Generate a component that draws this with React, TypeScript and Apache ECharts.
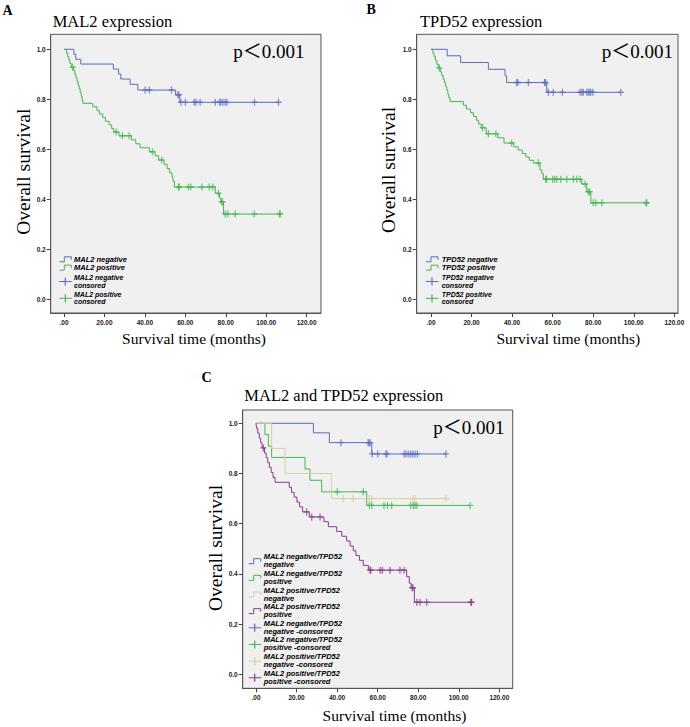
import React, { useEffect, useRef } from 'react';
import * as echarts from 'echarts';

const X_TICKS = [0, 20, 40, 60, 80, 100, 120];
const Y_TICKS = [0, 0.2, 0.4, 0.6, 0.8, 1.0];

// Panel A: MAL2
const aNegTimes = [0, 4.9, 5.8, 8.3, 24.4, 27.0, 28.1, 32.7, 36.5, 55.2, 57.3];
const aNegSurv = [1, 0.980, 0.960, 0.941, 0.921, 0.901, 0.881, 0.860, 0.837, 0.818, 0.788];
const aNegCens = [40.1, 42.2, 53.2, 56.3, 56.8, 57.8, 60.0, 64.4, 65.3, 67.3, 74.8, 76.9, 77.6, 78.6, 79.7, 80.5, 94.2, 106.1];

const aPosTimes = [0, 1.2, 1.8, 2.4, 3.0, 3.6, 4.8, 5.4, 5.9, 6.5, 7.0, 7.5, 8.0, 8.5, 8.9, 9.3, 14.2, 16.3, 17.5, 19.2, 20.5, 22.3, 23.6, 24.6, 27.2, 33.3, 35.5, 37.6, 42.2, 45.0, 46.8, 49.5, 51.0, 52.3, 53.4, 53.9, 54.6, 74.8, 76.9, 77.6, 78.9];
const aPosSurv = [1, 0.986, 0.971, 0.957, 0.943, 0.928, 0.914, 0.899, 0.885, 0.871, 0.856, 0.842, 0.827, 0.813, 0.798, 0.784, 0.770, 0.755, 0.741, 0.727, 0.712, 0.698, 0.683, 0.669, 0.654, 0.638, 0.622, 0.606, 0.590, 0.574, 0.557, 0.540, 0.523, 0.506, 0.489, 0.472, 0.449, 0.424, 0.405, 0.390, 0.341];
const aPosCens = [4.3, 25.8, 28.9, 32.2, 43.7, 48.3, 56.6, 57.0, 61.5, 62.7, 68.2, 71.8, 73.6, 76.4, 78.0, 78.3, 79.7, 81.0, 84.7, 94.1, 106.6, 106.9];

// Panel B: TPD52
const bNegTimes = [0, 8.0, 14.6, 28.3, 36.5, 37.3, 57.1];
const bNegSurv = [1, 0.974, 0.947, 0.920, 0.894, 0.867, 0.828];
const bNegCens = [42.3, 42.8, 48.0, 56.0, 56.5, 57.9, 60.3, 64.8, 73.5, 74.4, 75.1, 76.8, 77.5, 78.3, 78.8, 79.8, 93.6];

const bPosTimes = [0, 0.9, 1.5, 2.2, 2.9, 3.6, 4.6, 5.3, 6.0, 6.6, 7.2, 7.8, 8.3, 8.8, 9.4, 16.0, 17.5, 19.5, 21.0, 22.5, 23.5, 24.8, 27.2, 33.0, 36.0, 40.8, 43.0, 45.0, 46.8, 48.5, 50.5, 53.8, 54.6, 55.4, 74.3, 76.8, 78.8];
const bPosSurv = [1, 0.985, 0.970, 0.955, 0.940, 0.925, 0.910, 0.895, 0.880, 0.866, 0.851, 0.836, 0.821, 0.806, 0.791, 0.776, 0.761, 0.746, 0.731, 0.716, 0.701, 0.686, 0.662, 0.646, 0.625, 0.610, 0.597, 0.583, 0.569, 0.556, 0.545, 0.517, 0.503, 0.480, 0.461, 0.430, 0.386];
const bPosCens = [4.1, 25.5, 28.3, 32.0, 39.8, 52.9, 56.6, 57.0, 60.0, 61.0, 62.0, 64.0, 67.0, 70.2, 71.9, 73.5, 76.0, 77.6, 78.2, 80.0, 81.3, 84.2, 106.0, 106.4];

// Panel C: MAL2 and TPD52
const cNNTimes = [0, 28.3, 36.2, 57.1];
const cNNSurv = [1, 0.962, 0.923, 0.878];
const cNNCens = [41.9, 55.3, 55.8, 56.3, 57.3, 60.0, 64.1, 64.6, 73.0, 74.0, 75.1, 76.3, 77.3, 78.4, 79.6, 93.7];

const cNPTimes = [0, 4.4, 6.1, 7.7, 24.2, 26.6, 32.4, 54.6];
const cNPSurv = [1, 0.955, 0.909, 0.864, 0.818, 0.773, 0.727, 0.673];
const cNPCens = [40.1, 52.9, 55.9, 57.1, 63.1, 64.8, 66.9, 76.3, 77.6, 78.4, 79.3, 105.6];

const cPNTimes = [0, 7.7, 14.3, 37.3];
const cPNSurv = [1, 0.9, 0.8, 0.7];
const cPNCens = [43.1, 48.0, 55.8, 57.0, 77.3, 78.4, 93.7];

const cPPTimes = [0, 0.3, 0.9, 1.6, 2.3, 3.0, 4.2, 5.0, 5.8, 6.6, 7.5, 8.4, 9.4, 16.4, 17.5, 18.8, 20.2, 21.5, 23.0, 26.3, 33.5, 35.7, 39.8, 42.3, 44.7, 46.4, 48.0, 49.3, 51.0, 52.9, 55.4, 74.3, 75.6, 76.5, 78.1];
const cPPSurv = [1, 0.980, 0.961, 0.941, 0.922, 0.902, 0.882, 0.863, 0.843, 0.824, 0.804, 0.784, 0.765, 0.745, 0.725, 0.706, 0.686, 0.667, 0.647, 0.627, 0.608, 0.588, 0.569, 0.550, 0.531, 0.511, 0.492, 0.473, 0.454, 0.434, 0.415, 0.389, 0.363, 0.345, 0.287];
const cPPCens = [3.6, 25.0, 27.5, 31.6, 56.2, 56.6, 61.2, 62.3, 66.1, 71.0, 73.0, 77.0, 77.4, 79.3, 80.9, 84.2, 105.9, 106.3];

const A_LEGEND = ['MAL2 negative', 'MAL2 positive', 'MAL2 negative\nconsored', 'MAL2 positive\nconsored'];
const B_LEGEND = ['TPD52 negative', 'TPD52 positive', 'TPD52 negative\nconsored', 'TPD52 positive\nconsored'];
const C_LEGEND = [
  'MAL2 negative/TPD52\nnegative',
  'MAL2 negative/TPD52\npositive',
  'MAL2 positive/TPD52\nnegative',
  'MAL2 positive/TPD52\npositive',
  'MAL2 negative/TPD52\nnegative -consored',
  'MAL2 negative/TPD52\npositive -consored',
  'MAL2 positive/TPD52\nnegative -consored',
  'MAL2 positive/TPD52\npositive -consored',
];

const BLUE = '#5b6cbf';
const GREEN = '#45b552';
const TAN = '#d8cf9f';
const PURPLE = '#8a3a8e';

const SERIF = '"Liberation Serif", "Times New Roman", serif';
const SANS = '"Liberation Sans", Arial, sans-serif';
const CROSS = 'path://M0,2H2V0H3V2H5V3H3V5H2V3H0Z';

function kmLine(times: number[], surv: number[], cens: number[]) {
  const pts: number[][] = times.map((t, i) => [t, surv[i]]);
  const lastC = Math.max(...cens);
  if (lastC > times[times.length - 1]) pts.push([lastC, surv[surv.length - 1]]);
  return pts;
}
function survAt(times: number[], surv: number[], t: number) {
  let s = 1;
  for (let i = 0; i < times.length; i++) if (times[i] <= t) s = surv[i];
  return s;
}

const panels = [
  {
    grid: { left: 50.7, top: 34.3, width: 270.3, height: 278.7 },
    x: [-6.58, 127.1], y: [-0.0548, 1.06],
    curves: [
      { t: aNegTimes, s: aNegSurv, c: aNegCens, color: BLUE },
      { t: aPosTimes, s: aPosSurv, c: aPosCens, color: GREEN },
    ],
  },
  {
    grid: { left: 416.7, top: 34.3, width: 261.3, height: 278.7 },
    x: [-7.05, 121.8], y: [-0.0548, 1.06],
    curves: [
      { t: bNegTimes, s: bNegSurv, c: bNegCens, color: BLUE },
      { t: bPosTimes, s: bPosSurv, c: bPosCens, color: GREEN },
    ],
  },
  {
    grid: { left: 242.7, top: 410, width: 270, height: 278.3 },
    x: [-6.56, 126.6], y: [-0.0558, 1.053],
    curves: [
      { t: cNNTimes, s: cNNSurv, c: cNNCens, color: BLUE },
      { t: cNPTimes, s: cNPSurv, c: cNPCens, color: GREEN },
      { t: cPNTimes, s: cPNSurv, c: cPNCens, color: TAN },
      { t: cPPTimes, s: cPPSurv, c: cPPCens, color: PURPLE },
    ],
  },
];

function txt(text: string, x: number, y: number, font: string, opts: any = {}) {
  return {
    type: 'text', x, y, rotation: opts.rot || 0, silent: true, z: 100,
    style: {
      text, font, fill: opts.fill || '#000',
      align: opts.align || 'left', verticalAlign: 'middle',
      textAlign: opts.align || 'left', textVerticalAlign: 'middle',
      lineHeight: opts.lh,
    },
  };
}
function stepIcon(x0: number, y: number, color: string) {
  return {
    type: 'polyline', silent: true, z: 100,
    shape: { points: [[x0, y + 2.5], [x0 + 5, y + 2.5], [x0 + 5, y - 2.5], [x0 + 12, y - 2.5], [x0 + 12, y + 0.5]] },
    style: { stroke: color, fill: null, lineWidth: 1 },
  };
}
function crossIcon(x0: number, y: number, color: string) {
  return [
    { type: 'line', silent: true, z: 100, shape: { x1: x0, y1: y, x2: x0 + 12.5, y2: y }, style: { stroke: color, lineWidth: 1 } },
    { type: 'line', silent: true, z: 100, shape: { x1: x0 + 6, y1: y - 4, x2: x0 + 6, y2: y + 4 }, style: { stroke: color, lineWidth: 1.2 } },
  ];
}

export default function App() {
  const ref = useRef<HTMLDivElement>(null);
  useEffect(() => {
    if (!ref.current) return;
    const chart = echarts.init(ref.current, null, { renderer: 'svg' });
    const labelStyle = { fontSize: 6.5, fontWeight: 'bold', fontFamily: SANS, color: '#1a1a1a' };
    const series: any[] = [];
    panels.forEach((p, i) => {
      p.curves.forEach((cv) => {
        series.push({
          type: 'line', xAxisIndex: i, yAxisIndex: i, step: 'end',
          data: kmLine(cv.t, cv.s, cv.c), showSymbol: false, symbol: 'none',
          lineStyle: { color: cv.color, width: 1 }, itemStyle: { color: cv.color }, z: 2,
        });
      });
      p.curves.forEach((cv) => {
        series.push({
          type: 'scatter', xAxisIndex: i, yAxisIndex: i,
          data: cv.c.map((t) => [t, survAt(cv.t, cv.s, t)]),
          symbol: CROSS, symbolSize: [6, 7], itemStyle: { color: cv.color }, z: 3,
        });
      });
    });

    const graphics: any[] = [];
    const lblFont = `italic bold 7.5px ${SANS}`;
    const lblFont2 = `italic bold 7px ${SANS}`;
    graphics.push(txt('A', 2.5, 10.3, `bold 14px ${SERIF}`));
    graphics.push(txt('B', 366.5, 9, `bold 14px ${SERIF}`));
    graphics.push(txt('C', 201.5, 377, `bold 14px ${SERIF}`));
    graphics.push(txt('MAL2 expression', 52.7, 21, `16.5px ${SERIF}`));
    graphics.push(txt('TPD52 expression', 420, 21, `16.5px ${SERIF}`));
    graphics.push(txt('MAL2 and TPD52 expression', 244.3, 395, `16.5px ${SERIF}`));
    const pFont = `19px "Liberation Serif", "Noto Sans CJK SC", serif`;
    graphics.push(txt('p＜0.001', 233.3, 51.5, pFont));
    graphics.push(txt('p＜0.001', 601.7, 51.5, pFont));
    graphics.push(txt('p＜0.001', 433.3, 427, pFont));
    const yFont = `19.5px ${SERIF}`;
    const xFont = `15.5px ${SERIF}`;
    graphics.push(txt('Overall survival', 23.5, 171.7, yFont, { align: 'center', rot: Math.PI / 2 }));
    graphics.push(txt('Overall survival', 388.5, 170, yFont, { align: 'center', rot: Math.PI / 2 }));
    graphics.push(txt('Overall survival', 215, 548, yFont, { align: 'center', rot: Math.PI / 2 }));
    graphics.push(txt('Survival time (months)', 194, 338.5, xFont, { align: 'center' }));
    graphics.push(txt('Survival time (months)', 568.3, 338.5, xFont, { align: 'center' }));
    graphics.push(txt('Survival time (months)', 394.5, 715, xFont, { align: 'center' }));

    const abLegend = (iconX: number, textX: number, labels: string[]) => {
      graphics.push(stepIcon(iconX, 259.3, BLUE));
      graphics.push(txt(labels[0], textX, 259.3, lblFont));
      graphics.push(stepIcon(iconX, 267.7, GREEN));
      graphics.push(txt(labels[1], textX, 267.7, lblFont));
      graphics.push(...crossIcon(iconX, 281.5, BLUE));
      graphics.push(txt(labels[2], textX, 281.5, lblFont2, { lh: 7.2 }));
      graphics.push(...crossIcon(iconX, 298.3, GREEN));
      graphics.push(txt(labels[3], textX, 298.3, lblFont2, { lh: 7.2 }));
    };
    abLegend(59.3, 74, A_LEGEND);
    abLegend(426, 441.7, B_LEGEND);
    const cColors = [BLUE, GREEN, TAN, PURPLE, BLUE, GREEN, TAN, PURPLE];
    C_LEGEND.forEach((label, k) => {
      const mid = 560.7 + k * 16.65;
      if (k < 4) graphics.push(stepIcon(248.7, mid + 0.5, cColors[k]));
      else graphics.push(...crossIcon(248.7, mid + 0.5, cColors[k]));
      graphics.push(txt(label, 263.7, mid, lblFont, { lh: 8 }));
    });

    const option: any = {
      animation: false,
      backgroundColor: '#ffffff',
      grid: panels.map((p) => ({ ...p.grid, show: true, backgroundColor: '#f0f0f0', borderColor: '#555', borderWidth: 1, containLabel: false })),
      xAxis: panels.map((p, i) => ({
        type: 'value', gridIndex: i, min: p.x[0], max: p.x[1],
        axisLine: { show: true, onZero: false, lineStyle: { color: '#555', width: 1 } },
        axisTick: { show: true, length: 4, customValues: X_TICKS, lineStyle: { color: '#444' } },
        axisLabel: { ...labelStyle, margin: 6, customValues: X_TICKS, formatter: (v: number) => (v === 0 ? '.00' : v.toFixed(2)) },
        splitLine: { show: false },
      })),
      yAxis: panels.map((p, i) => ({
        type: 'value', gridIndex: i, min: p.y[0], max: p.y[1],
        axisLine: { show: true, onZero: false, lineStyle: { color: '#555', width: 1 } },
        axisTick: { show: true, length: 4, customValues: Y_TICKS, lineStyle: { color: '#444' } },
        axisLabel: { ...labelStyle, margin: 5, customValues: Y_TICKS, formatter: (v: number) => v.toFixed(1) },
        splitLine: { show: false },
      })),
      series,
      graphic: { elements: graphics },
    };
    chart.setOption(option);
    return () => chart.dispose();
  }, []);
  return <div ref={ref} style={{ position: 'fixed', left: 0, top: 0, width: 690, height: 727, background: '#fff' }} />;
}
